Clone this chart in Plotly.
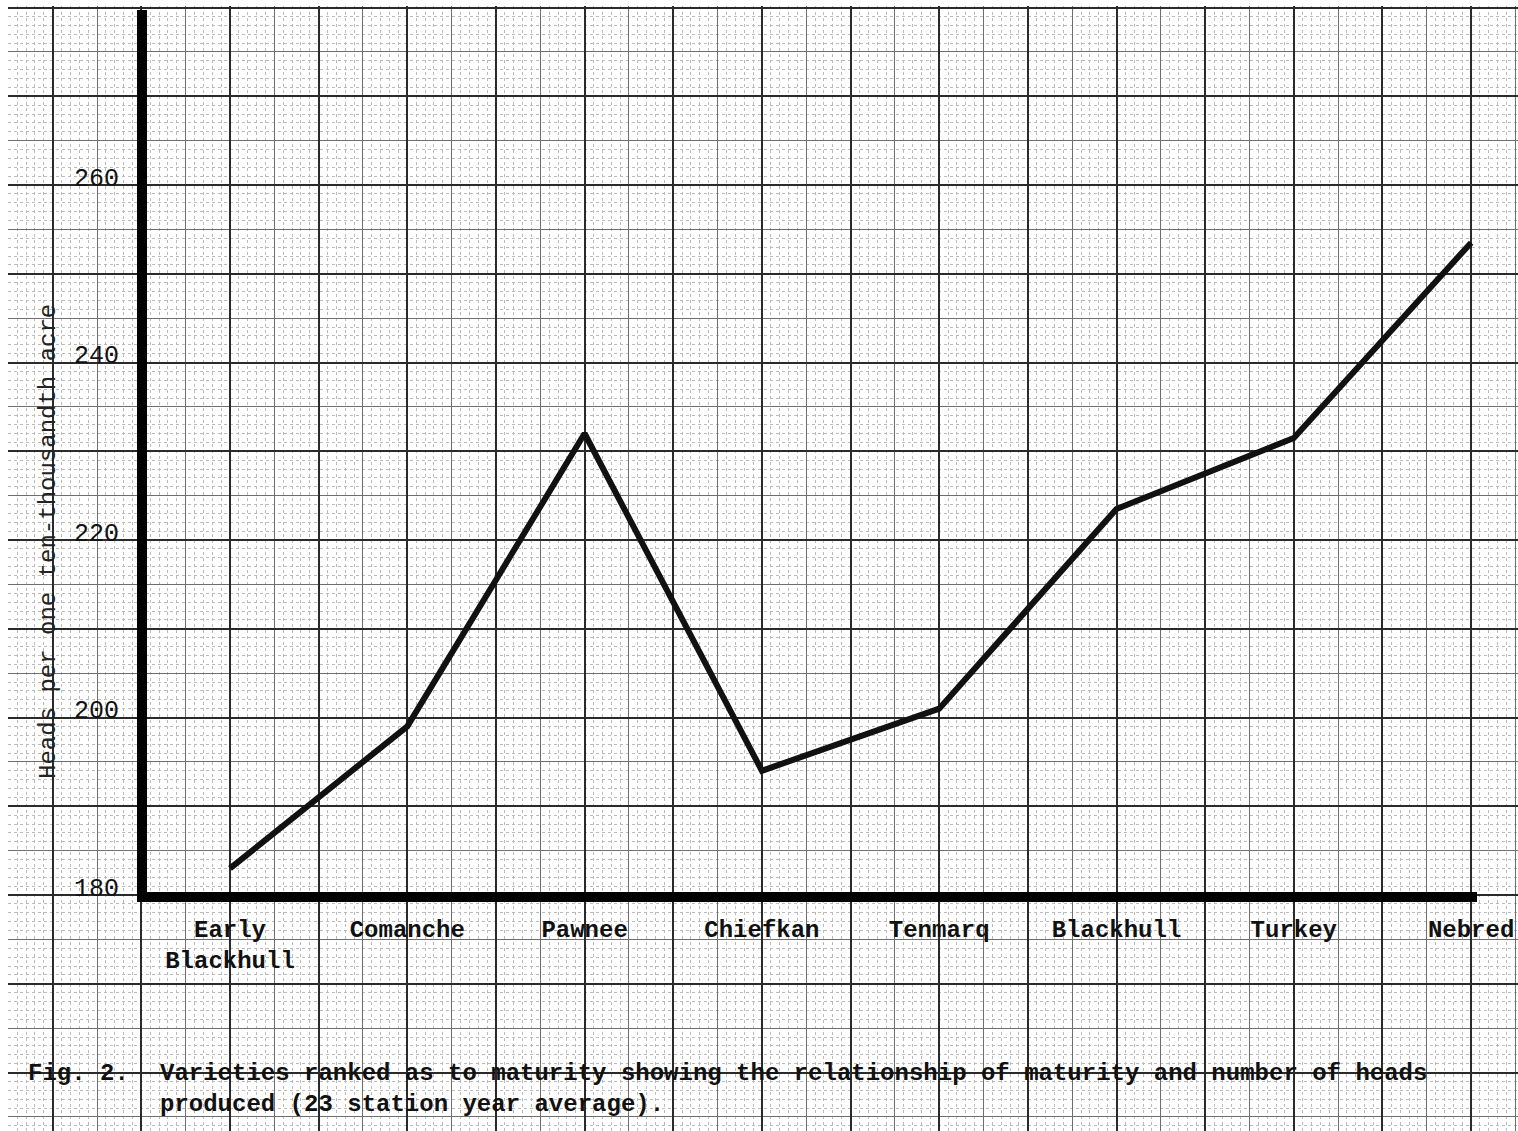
import plotly.graph_objects as go

# ---- data -------------------------------------------------------------
varieties = ["Early<br>Blackhull", "Comanche", "Pawnee", "Chiefkan",
             "Tenmarq", "Blackhull", "Turkey", "Nebred"]
heads = [183, 199, 232, 194, 201, 223.5, 231.5, 253.5]
y_tick_values = [180, 200, 220, 240, 260]
y_title = "Heads per one ten-thousandth acre"
caption_fig = "Fig. 2."
caption_text = ("Varieties ranked as to maturity showing the relationship of maturity and number of heads"
                "<br>produced (23 station year average).")

positions = list(range(len(varieties)))

# ---- geometry (pixel scale of the graph paper) -------------------------
W, H = 1518, 1131
PX_PER_CAT = 177.3
X0_PX = 230.0
PX_PER_UNIT = 8.875
Y180_PX = 895.0


def xv(px):
    return (px - X0_PX) / PX_PER_CAT


def yv(py):
    return 180 + (Y180_PX - py) / PX_PER_UNIT


def bold(t):
    return "<b>" + t.replace("<br>", "</b><br><b>") + "</b>"


FONT = "Liberation Mono"

fig = go.Figure()
# empty traces so that the graph-paper subplots get drawn
fig.add_trace(go.Scatter(x=[], y=[], xaxis="x", yaxis="y", hoverinfo="skip", showlegend=False))
fig.add_trace(go.Scatter(x=[], y=[], xaxis="x3", yaxis="y3", hoverinfo="skip", showlegend=False))
fig.add_trace(go.Scatter(
    x=positions, y=heads, xaxis="x2", yaxis="y2",
    mode="lines", line=dict(color="#111111", width=6),
    hoverinfo="skip", showlegend=False,
))

ax_left_px, ax_right_px = 147, 1477
ax_bottom_px, ax_top_px = 892, 10
paper_left_px, paper_top_px = 8, 6

grid_common = dict(zeroline=False, ticks="", showline=False, fixedrange=True,
                   automargin=False)

x_grid_range = [xv(paper_left_px), xv(W)]
y_grid_range = [yv(H), yv(paper_top_px)]
x_grid_domain = [paper_left_px / W, 1]
y_grid_domain = [0, 1 - paper_top_px / H]

fig.update_layout(
    width=W, height=H,
    margin=dict(l=0, r=0, t=0, b=0, autoexpand=False),
    paper_bgcolor="white",
    plot_bgcolor="rgba(0,0,0,0)",
    showlegend=False,
    xaxis=dict(domain=x_grid_domain, range=x_grid_range, tick0=0, dtick=0.25,
               showgrid=True, gridcolor="#6e6e6e", gridwidth=1, showticklabels=False,
               minor=dict(dtick=0.05, showgrid=True, gridcolor="#bbbbbb",
                          griddash="dot", gridwidth=1),
               anchor="y", **grid_common),
    yaxis=dict(domain=y_grid_domain, range=y_grid_range, tick0=0, dtick=5,
               showgrid=True, gridcolor="#6e6e6e", gridwidth=1, showticklabels=False,
               minor=dict(dtick=1, showgrid=True, gridcolor="#bbbbbb",
                          griddash="dot", gridwidth=1),
               anchor="x", **grid_common),
    xaxis3=dict(overlaying="x", range=x_grid_range, tick0=0, dtick=0.5,
                showgrid=True, gridcolor="#2a2a2a", gridwidth=1.6, showticklabels=False,
                anchor="y3", **grid_common),
    yaxis3=dict(overlaying="y", range=y_grid_range,
                tickmode="array", tickvals=y_tick_values + [160, 170, 190, 210, 230, 250, 270, 280],
                ticktext=[str(v) for v in y_tick_values] + [""] * 8,
                showgrid=True, gridcolor="#2a2a2a", gridwidth=1.6,
                showticklabels=True, anchor="free", position=(ax_left_px - 10) / W,
                side="left", ticklabelstandoff=18, ticklabelshift=-8,
                tickfont=dict(family=FONT, size=25, color="#111111"),
                **grid_common),
    xaxis2=dict(domain=[ax_left_px / W, ax_right_px / W],
                range=[xv(ax_left_px), xv(ax_right_px)],
                anchor="y2", showgrid=False, zeroline=False, automargin=False,
                showline=True, linecolor="#000000", linewidth=10,
                tickmode="array", tickvals=positions,
                ticktext=[bold(t) for t in varieties],
                ticks="", ticklabelstandoff=6,
                tickfont=dict(family=FONT, size=24, color="#111111"),
                fixedrange=True),
    yaxis2=dict(domain=[1 - ax_bottom_px / H, 1 - ax_top_px / H],
                range=[yv(ax_bottom_px), yv(ax_top_px)],
                anchor="x2", showgrid=False, zeroline=False, automargin=False,
                showline=True, linecolor="#000000", linewidth=10,
                showticklabels=False, ticks="", fixedrange=True),
)

fig.add_annotation(text=y_title, textangle=-90, xref="paper", yref="paper",
                   x=48 / W, y=1 - 542 / H, xanchor="center", yanchor="middle",
                   showarrow=False, font=dict(family=FONT, size=24, color="#222222"))
fig.add_annotation(text=bold(caption_fig), xref="paper", yref="paper",
                   x=26 / W, y=1 - 1058 / H, xanchor="left", yanchor="top",
                   showarrow=False, font=dict(family=FONT, size=24, color="#111111"))
fig.add_annotation(text=bold(caption_text), xref="paper", yref="paper", align="left",
                   x=158 / W, y=1 - 1058 / H, xanchor="left", yanchor="top",
                   showarrow=False, font=dict(family=FONT, size=24, color="#111111"))

fig.write_html("out.html", config={"displayModeBar": False},
               post_script="document.body.style.margin='0';")
